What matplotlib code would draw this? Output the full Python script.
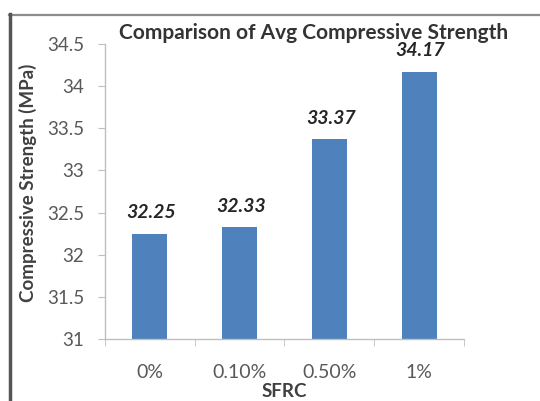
import numpy as np
import matplotlib.pyplot as plt
from matplotlib.lines import Line2D

categories = ["0%", "0.10%", "0.50%", "1%"]
strength = [32.25, 32.33, 33.37, 34.17]
yticks = [31, 31.5, 32, 32.5, 33, 33.5, 34, 34.5]

plt.rcParams['font.family'] = ['Lato', 'DejaVu Sans']

fig = plt.figure(figsize=(5.4, 4.01), dpi=100)
ax = fig.add_axes([0.1944, 0.1546, 0.6649, 0.7357])

x = np.arange(len(categories))
ax.bar(x, strength, width=0.39, color='#4F81BD')
ax.set_ylim(31, 34.5)
ax.set_xlim(-0.5, len(categories) - 0.5)

for xi, v in zip(x, strength):
    ax.annotate(f"{v:.2f}", (xi, v), xytext=(1, 15), textcoords='offset points',
                ha='center', va='center', fontsize=14, fontweight='bold',
                style='italic', color='#262626')

ax.set_yticks(yticks)
ax.set_yticklabels([f"{t:g}" for t in yticks])
ax.set_xticks(x)
ax.set_xticklabels(categories)
ax.set_xticks(np.arange(-0.5, len(categories)), minor=True)
ax.tick_params(axis='x', which='major', length=0, pad=18, labelsize=14, labelcolor='#595959')
ax.tick_params(axis='x', which='minor', length=5, color='#BFBFBF', direction='out')
ax.tick_params(axis='y', length=5, color='#BFBFBF', pad=10, labelsize=13.5, labelcolor='#595959')

for side in ['top', 'right']:
    ax.spines[side].set_visible(False)
for side in ['left', 'bottom']:
    ax.spines[side].set_color('#BFBFBF')
    ax.spines[side].set_linewidth(1)

ax.set_xlabel("SFRC", fontsize=13.5, fontweight='bold', color='#404040', va='center')
ax.xaxis.set_label_coords(0.5, -0.177)
ax.set_ylabel("Compressive Strength (MPa)", fontsize=13.5, fontweight='bold', color='#404040')
ax.yaxis.set_label_coords(-0.19, 0.53)

fig.text(0.58, 0.918, "Comparison of Avg Compressive Strength", ha='center', va='center',
         fontsize=15, fontweight='bold', color='#333333')

# chart frame along the top and left edges
fig.add_artist(Line2D([0.017, 1.0], [0.963, 0.963], color='#8C8C8C', lw=1.6))
fig.add_artist(Line2D([0.018, 0.018], [0.0, 0.965], color='#555555', lw=2.5))

fig.savefig("out.png", dpi=100)
